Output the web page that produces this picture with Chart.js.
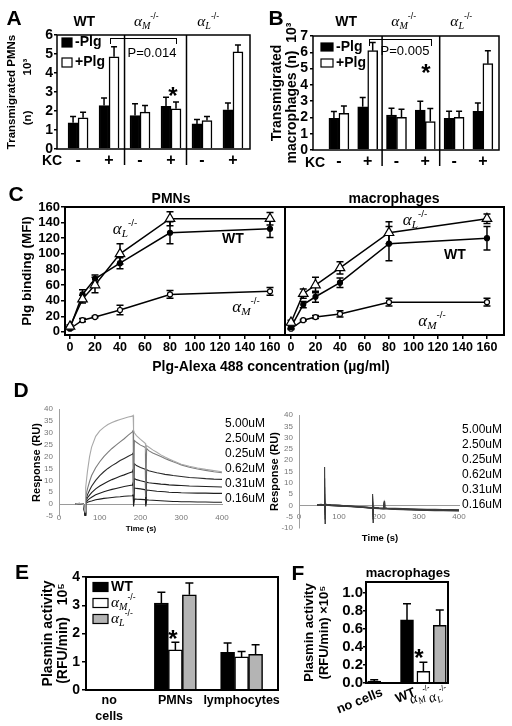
<!DOCTYPE html>
<html>
<head>
<meta charset="utf-8">
<script src="https://cdn.jsdelivr.net/npm/chart.js@4.4.1/dist/chart.umd.min.js"></script>
<style>
  body { margin: 0; background: #fff; }
  #wrap { position: relative; width: 512px; height: 726px; overflow: hidden; background: #fff;
          font-family: "Liberation Sans", Arial, sans-serif; color: #000; }
  #wrap canvas { position: absolute; left: 0; top: 0; }
  .t { position: absolute; white-space: nowrap; line-height: 1; transform: translate(-50%, -50%); }
  .g { font-family: "Liberation Serif", "Times New Roman", serif; font-style: italic; }
  .g sub { font-size: .66em; vertical-align: -.3em; line-height: 0; }
  .g sup { font-family: "Liberation Sans", Arial, sans-serif; font-style: normal; font-size: .58em; vertical-align: .75em; line-height: 0; }
</style>
</head>
<body>
<div id="wrap"></div>
<script>
const SANS = '"Liberation Sans", Arial, sans-serif';
const SERIF = '"Liberation Serif", "Times New Roman", serif';
Chart.defaults.font.family = SANS;
Chart.defaults.color = '#000';

// ---------- data ----------

// A / B : transmigration (n x 10^3)
const kcLabels = ['-', '+', '-', '+', '-', '+'];
const genotypes = ['WT', 'αM-/-', 'αL-/-'];
const pmnNoPlg = [1.38, 2.29, 1.76, 2.24, 1.32, 2.06];
const pmnNoPlgSd = [0.33, 0.39, 0.62, 0.49, 0.23, 0.36];
const pmnPlg = [1.64, 4.85, 1.94, 2.12, 1.5, 5.11];
const pmnPlgSd = [0.3, 0.53, 0.35, 0.35, 0.21, 0.36];
const macNoPlg = [1.95, 2.65, 2.15, 2.45, 1.95, 2.38];
const macNoPlgSd = [0.42, 0.58, 0.42, 0.55, 0.43, 0.5];
const macPlg = [2.25, 6.1, 2.0, 1.75, 2.0, 5.3];
const macPlgSd = [0.45, 0.5, 0.5, 0.8, 0.38, 0.8];
const aTicks = [0, 1, 2, 3, 4, 5, 6];
const bTicks = [0, 1, 2, 3, 4, 5, 6, 7];

// C : Plg binding (MFI) vs Plg-Alexa 488 (ug/ml)
const cConc = [0, 10, 20, 40, 80, 160];
const pmnWT = [5, 48, 68, 88, 127, 132];
const pmnWTSd = [2, 6, 5, 7, 14, 11];
const pmnAL = [7, 42, 60, 100, 145, 145];
const pmnALSd = [2, 5, 10, 13, 9, 8];
const pmnAM = [4, 15, 19, 28, 48, 52];
const pmnAMSd = [1, 2, 1, 6, 5, 5];
const macWT = [6, 35, 45, 63, 113, 120];
const macWTSd = [2, 4, 7, 6, 22, 15];
const macAL = [12, 49, 60, 82, 127, 145];
const macALSd = [3, 6, 10, 8, 14, 6];
const macAM = [4, 15, 19, 23, 38, 38];
const macAMSd = [1, 1, 2, 4, 5, 5];
const cXTicks = [0, 20, 40, 60, 80, 100, 120, 140, 160];
const cYTicks = [0, 20, 40, 60, 80, 100, 120, 140, 160];

// D : sensorgrams (RU vs s)
const dConc = ['5.00uM', '2.50uM', '0.25uM', '0.62uM', '0.31uM', '0.16uM'];
const dTime = [40, 50, 60, 64, 65, 66, 68, 70, 75, 80, 90, 100, 110, 120, 130, 140, 150, 160, 170, 180,
  182, 183, 185, 190, 200, 210, 212, 213, 215, 220, 230, 240, 250, 260, 270, 280, 290, 300, 320, 340, 360, 380, 400];
const s500 = [0, 0.3, 0, -3, 2, 7, 11, 14, 20, 24, 28.5, 30.8, 32.3, 33.5, 34.3, 35, 35.6, 36.1, 36.6, 37,
  37.3, 31, 30, 28.8, 27.2, 25.8, 25.5, 23, 24.6, 24, 22.8, 21.8, 20.7, 19.8, 19, 18.2, 17.5, 16.8, 15.9, 15.2, 14.6, 14.1, 13.6];
const s250 = [0, 0.2, 0, -3.5, 1, 3, 5, 6.5, 9.5, 12, 15.3, 17.8, 20, 21.8, 23.4, 24.8, 26.2, 27.5, 29, 30.4,
  31, 4, 26.8, 26, 24.8, 24, 23.7, 3, 23.4, 22.5, 21.5, 20.8, 20, 19.2, 18.5, 17.8, 17.2, 16.5, 15.5, 14.8, 14.2, 13.6, 13.2];
const s025 = [0, 0.3, -0.2, -4, 0.5, 2, 3, 4, 5.8, 7.5, 10, 12, 13.6, 15, 16.2, 17.2, 18.3, 19.2, 20.1, 21,
  21.5, 2, 17, 16.2, 15.4, 14.8, 14.6, 1, 14.5, 14, 13.6, 13.2, 12.9, 12.5, 12.3, 12, 11.8, 11.6, 11.2, 11, 10.7, 10.5, 10.4];
const s062 = [0, 0.2, 0, -4.5, 0.3, 1.3, 2, 2.7, 3.8, 4.8, 6.4, 7.6, 8.6, 9.5, 10.3, 11, 11.7, 12.3, 13, 13.6,
  14.5, 1, 10.8, 10.3, 9.8, 9.4, 9.3, 0.5, 9.2, 9, 8.8, 8.6, 8.4, 8.3, 8.1, 8, 7.9, 7.8, 7.6, 7.5, 7.4, 7.3, 7.2];
const s031 = [0, 0.2, 0, -5, 0.2, 0.8, 1.2, 1.6, 2.3, 2.9, 3.9, 4.6, 5.2, 5.7, 6.2, 6.6, 7, 7.4, 7.7, 8,
  9, 0.5, 6.8, 6.6, 6.4, 6.1, 6, 0, 5.9, 5.8, 5.6, 5.4, 5.3, 5.2, 5, 4.9, 4.9, 4.8, 4.7, 4.6, 4.6, 4.5, 4.5];
const s016 = [0, 0.2, 0, -5, 0, 0.4, 0.6, 0.8, 1.1, 1.3, 1.8, 2.1, 2.4, 2.6, 2.8, 3, 3.1, 3.3, 3.4, 3.5,
  4, -1, 2.2, 2.1, 2, 1.9, 1.9, -1, 1.8, 1.7, 1.6, 1.5, 1.4, 1.3, 1.2, 1.1, 1.1, 1, 1, 0.9, 0.9, 0.8, 0.8];
const rTime = [45, 55, 63, 64, 65, 66, 70, 80, 100, 120, 140, 160, 175, 183, 184, 185, 186, 190, 200, 212,
  213, 214, 220, 240, 260, 280, 300, 320, 340, 360, 380, 400];
const r500 = [0.3, 0.5, 0.3, 17, -8, 0.5, 0.4, 0.2, 0, -0.3, -0.6, -0.9, -1.1, -1.2, 5, -7.5, -1, -1.3, -1.5, -1.6,
  2, -1.5, -1.6, -1.8, -1.9, -2, -2.1, -2.2, -2.3, -2.4, -2.4, -2.5];
const r250 = [0.2, 0.4, 0.3, 12, -6, 0.6, 0.5, 0.3, 0.1, -0.2, -0.5, -0.8, -1, -1.1, 4, -6, -0.9, -1.1, -1.3, -1.4,
  1.5, -1.3, -1.4, -1.6, -1.7, -1.8, -1.9, -2, -2.1, -2.1, -2.2, -2.2];
const r025 = [0.1, 0.3, 0.2, 8, -4, 0.4, 0.4, 0.2, 0, -0.2, -0.4, -0.6, -0.8, -0.9, 3, -5, -0.7, -0.9, -1.1, -1.2,
  1.2, -1.1, -1.2, -1.3, -1.4, -1.5, -1.6, -1.7, -1.7, -1.8, -1.8, -1.9];
const r062 = [0.2, 0.3, 0.2, 5, -3, 0.3, 0.3, 0.1, -0.1, -0.3, -0.5, -0.7, -0.9, -1, 2, -4, -0.8, -1, -1.2, -1.3,
  0.8, -1.2, -1.3, -1.5, -1.6, -1.7, -1.8, -1.9, -2, -2, -2.1, -2.1];
const r031 = [0.1, 0.2, 0.1, 3, -2, 0.2, 0.2, 0, -0.2, -0.4, -0.6, -0.8, -1, -1.1, 1.5, -3, -0.9, -1.1, -1.3, -1.4,
  0.5, -1.3, -1.4, -1.6, -1.7, -1.8, -1.9, -2, -2.1, -2.1, -2.2, -2.2];
const r016 = [0, 0.2, 0.1, 2, -1.5, 0.1, 0.1, -0.1, -0.3, -0.5, -0.7, -0.9, -1.1, -1.2, 1, -2, -1, -1.2, -1.4, -1.5,
  0.3, -1.4, -1.5, -1.7, -1.8, -1.9, -2, -2.1, -2.2, -2.2, -2.3, -2.3];
const dXTicks = [0, 100, 200, 300, 400];
const dYTicks = [-5, 0, 5, 10, 15, 20, 25, 30, 35, 40];
const dYTicksR = [-10, -5, 0, 5, 10, 15, 20, 25, 30, 35, 40];

// E : plasmin activity (RFU/min x 10^5)
const eLabels = ['no cells', 'PMNs', 'lymphocytes'];
const plasWT = [null, 3.08, 1.33];
const plasWTSd = [null, 0.38, 0.33];
const plasAM = [null, 1.42, 1.17];
const plasAMSd = [null, 0.27, 0.19];
const plasAL = [null, 3.37, 1.26];
const plasALSd = [null, 0.42, 0.34];
const eTicks = [0, 1, 2, 3, 4];

// F : macrophage plasmin activity
const fLabels = ['no cells', '', 'WT', 'αM-/-', 'αL-/-'];
const fValues = [0.02, null, 0.70, 0.13, 0.64];
const fSd = [0.015, null, 0.18, 0.1, 0.17];
const fTicks = [0, 0.2, 0.4, 0.6, 0.8, 1.0];

// ---------- helpers ----------

const wrap = document.getElementById('wrap');
const pts = (xs, ys) => xs.map((x, i) => ({ x, y: ys[i] }));
const idx = ys => ys.map((y, i) => ({ x: i, y }));

// α with subscript letter and -/- superscript
function drawRich(ctx, text, x, y, size, align) {
  const m = /^α([A-Z])(.*)$/.exec(text);
  ctx.save();
  ctx.fillStyle = '#000';
  ctx.textBaseline = 'middle';
  if (!m) {
    ctx.font = `bold ${size}px ${SANS}`;
    ctx.textAlign = align;
    ctx.fillText(text, x, y);
    ctx.restore();
    return;
  }
  const parts = [
    { t: 'α', f: `italic ${size * 1.1}px ${SERIF}`, dy: 0 },
    { t: m[1], f: `italic ${size * 0.72}px ${SERIF}`, dy: size * 0.32 },
    { t: m[2], f: `${size * 0.62}px ${SANS}`, dy: -size * 0.4 },
  ];
  let w = 0;
  parts.forEach(p => { ctx.font = p.f; p.w = ctx.measureText(p.t).width; w += p.w; });
  let cx = align === 'center' ? x - w / 2 : align === 'right' ? x - w : x;
  ctx.textAlign = 'left';
  parts.forEach(p => { ctx.font = p.f; ctx.fillText(p.t, cx, y + p.dy); cx += p.w; });
  ctx.restore();
}

const frame = {
  id: 'frame',
  afterDraw(chart, args, o) {
    const { ctx, chartArea: a } = chart;
    ctx.save();
    ctx.strokeStyle = '#000';
    ctx.lineWidth = o.width || 1.5;
    ctx.strokeRect(a.left, a.top, a.right - a.left, a.bottom - a.top);
    (o.splits || []).forEach(v => {
      const x = chart.scales.x.getPixelForValue(v);
      ctx.beginPath();
      ctx.moveTo(x, a.top);
      ctx.lineTo(x, a.bottom + (o.drop || 0));
      ctx.stroke();
    });
    ctx.restore();
  },
};

const errorBars = {
  id: 'errorBars',
  beforeDatasetsDraw(chart, args, o) {
    const { ctx } = chart;
    const ys = chart.scales.y;
    chart.data.datasets.forEach((ds, di) => {
      if (!ds.errors) return;
      const meta = chart.getDatasetMeta(di);
      ctx.save();
      ctx.strokeStyle = '#000';
      ctx.lineWidth = o.width || 1.5;
      meta.data.forEach((el, i) => {
        const raw = ds.data[i];
        const v = raw !== null && typeof raw === 'object' ? raw.y : raw;
        const e = ds.errors[i];
        if (v == null || !e) return;
        const top = ys.getPixelForValue(v + e);
        const bot = ys.getPixelForValue(o.both ? v - e : v);
        ctx.beginPath();
        ctx.moveTo(el.x, bot);
        ctx.lineTo(el.x, top);
        ctx.moveTo(el.x - o.cap, top);
        ctx.lineTo(el.x + o.cap, top);
        if (o.both) {
          ctx.moveTo(el.x - o.cap, bot);
          ctx.lineTo(el.x + o.cap, bot);
        }
        ctx.stroke();
      });
      ctx.restore();
    });
  },
};

const groupHeads = {
  id: 'groupHeads',
  afterDraw(chart, args, o) {
    const xs = chart.scales.x;
    o.labels.forEach((lab, g) => {
      drawRich(chart.ctx, lab, xs.getPixelForValue(2 * g + o.shift), chart.chartArea.top - o.offset, o.size, 'center');
    });
  },
};

const boxLegend = {
  id: 'boxLegend',
  afterDraw(chart, args, o) {
    const { ctx, chartArea: a } = chart;
    chart.data.datasets.forEach((ds, i) => {
      const x = a.left + o.x;
      const y = a.top + o.y + i * o.gap;
      ctx.save();
      ctx.fillStyle = ds.backgroundColor;
      ctx.strokeStyle = '#000';
      ctx.lineWidth = 1.2;
      ctx.fillRect(x, y - o.bh / 2, o.bw, o.bh);
      ctx.strokeRect(x, y - o.bh / 2, o.bw, o.bh);
      ctx.restore();
      drawRich(ctx, ds.label, x + o.bw + 3, y, o.size, 'left');
    });
  },
};

const slantTicks = {
  id: 'slantTicks',
  afterDraw(chart, args, o) {
    const { ctx, chartArea: a } = chart;
    const xs = chart.scales.x;
    chart.data.labels.forEach((lab, i) => {
      if (!lab) return;
      ctx.save();
      ctx.translate(xs.getPixelForValue(i) + o.dx, a.bottom + o.dy);
      ctx.rotate(-o.angle * Math.PI / 180);
      drawRich(ctx, lab, 0, 0, o.size, 'right');
      ctx.restore();
    });
  },
};

function yAxis(o) {
  return {
    min: o.min,
    max: o.max,
    afterBuildTicks: s => { s.ticks = o.ticks.map(v => ({ value: v })); },
    afterFit: s => { s.width = o.w; },
    border: { display: !!o.line, color: o.line, width: 1 },
    grid: { display: !!o.tick, drawOnChartArea: false, drawTicks: !!o.tick, tickLength: o.tick || 0, color: '#000', lineWidth: 1.5 },
    ticks: {
      autoSkip: false, color: o.color || '#000', padding: o.pad,
      font: { size: o.size, weight: o.light ? 'normal' : 'bold' }, callback: o.fmt || (v => v),
    },
    title: { display: true, text: o.title, color: '#000', padding: 0, font: { size: o.tsize, weight: 'bold', lineHeight: o.tlh || 1.15 } },
  };
}

// category-like axis on a linear scale, so the groups can sit where the figure has them
function idxAxis(labels, min, max, o) {
  return {
    type: 'linear',
    min,
    max,
    offset: false,
    afterBuildTicks: s => { s.ticks = labels.map((_, i) => ({ value: i })); },
    afterFit: s => { s.height = o.h; },
    grid: { display: false, drawTicks: false, offset: false },
    border: { display: false },
    ticks: {
      autoSkip: false, maxRotation: 0, padding: o.pad,
      font: { size: o.size, weight: 'bold', lineHeight: o.lh || 1.2 },
      callback: v => (o.split ? labels[v].split(' ') : labels[v]),
    },
  };
}

function makeChart(type, data, options, plugins) {
  const c = document.createElement('canvas');
  c.width = 512;
  c.height = 726;
  wrap.appendChild(c);
  const base = { responsive: false, animation: false, devicePixelRatio: 1, events: [] };
  const opts = Object.assign(base, options);
  opts.plugins = Object.assign({ legend: { display: false }, tooltip: { enabled: false } }, options.plugins);
  return new Chart(c, { type, data, options: opts, plugins });
}

function note(html, x, y, css, left) {
  const d = document.createElement('div');
  d.className = 't';
  d.innerHTML = html;
  d.style.cssText = `left:${x}px;top:${y}px;${css || ''}`;
  if (left) d.style.transform = 'translate(0,-50%)';
  wrap.appendChild(d);
}
const star = (x, y, size) => note('*', x, y - 0.28 * size, `font:bold ${size}px ${SANS};transform:translateX(-50%)`);
const bracket = (x1, x2, y, h) => {
  const d = document.createElement('div');
  d.style.cssText = `position:absolute;left:${x1}px;top:${y}px;width:${x2 - x1}px;height:${h}px;border:1px solid #000;border-bottom:none;`;
  wrap.appendChild(d);
};
const geno = L => `<span class="g">α<sub>${L}</sub><sup>-/-</sup></span>`;

// ---------- A ----------
makeChart('bar', {
  datasets: [
    { label: '-Plg', data: idx(pmnNoPlg), errors: pmnNoPlgSd, backgroundColor: '#000', borderColor: '#000', borderWidth: 1.5 },
    { label: '+Plg', data: idx(pmnPlg), errors: pmnPlgSd, backgroundColor: '#fff', borderColor: '#000', borderWidth: 1.5 },
  ],
}, {
  layout: { padding: { left: 4, top: 35, right: 262, bottom: 557 } },
  datasets: { bar: { barThickness: 10 } },
  scales: {
    x: idxAxis(kcLabels, -0.68, 5.55, { size: 16, pad: 2, h: 20 }),
    y: yAxis({ min: 0, max: 6, ticks: aTicks, w: 53, size: 14, tick: 3, pad: 1,
      title: ['Transmigrated PMNs', '(n)           10³'], tsize: 11.5, tlh: 1.4 }),
  },
  plugins: {
    frame: { width: 1.5, splits: [1.5, 3.5], drop: 16 },
    errorBars: { cap: 3 },
    groupHeads: { labels: genotypes, shift: 0.2, offset: 13, size: 14 },
    boxLegend: { x: 5, y: 7.5, gap: 20, bw: 10, bh: 9, size: 14 },
  },
}, [frame, errorBars, groupHeads, boxLegend]);

// ---------- B ----------
makeChart('bar', {
  datasets: [
    { label: '-Plg', data: idx(macNoPlg), errors: macNoPlgSd, backgroundColor: '#000', borderColor: '#000', borderWidth: 1.5 },
    { label: '+Plg', data: idx(macPlg), errors: macPlgSd, backgroundColor: '#fff', borderColor: '#000', borderWidth: 1.5 },
  ],
}, {
  layout: { padding: { left: 269, top: 36, right: 13, bottom: 556 } },
  datasets: { bar: { barThickness: 10 } },
  scales: {
    x: idxAxis(kcLabels, -0.9, 5.56, { size: 16, pad: 2, h: 20 }),
    y: yAxis({ min: 0, max: 7, ticks: bTicks, w: 44, size: 14, tick: 3, pad: 2,
      title: ['Transmigrated', 'macrophages (n)  10³'], tsize: 14, tlh: 1.1 }),
  },
  plugins: {
    frame: { width: 1.5, splits: [1.5, 3.5], drop: 16 },
    errorBars: { cap: 3 },
    groupHeads: { labels: genotypes, shift: 0.25, offset: 14, size: 14 },
    boxLegend: { x: 8, y: 11, gap: 16, bw: 12, bh: 8, size: 14 },
  },
}, [frame, errorBars, groupHeads, boxLegend]);

// ---------- C ----------
const lineDs = (label, ys, sd, style) => Object.assign({
  label, data: pts(cConc, ys), errors: sd,
  borderColor: '#000', borderWidth: 1.5, pointBorderColor: '#000', pointBorderWidth: 1.2,
}, style);
const wtStyle = { pointStyle: 'circle', pointRadius: 2.5, pointBackgroundColor: '#000' };
const alStyle = { pointStyle: 'triangle', pointRadius: 5.5, pointBackgroundColor: '#fff' };
const amStyle = { pointStyle: 'circle', pointRadius: 2.5, pointBackgroundColor: '#fff' };
const cX = (min, max) => ({
  type: 'linear', min, max,
  afterBuildTicks: s => { s.ticks = cXTicks.map(v => ({ value: v })); },
  afterFit: s => { s.height = 24; },
  border: { display: false },
  grid: { display: true, drawOnChartArea: false, drawTicks: true, tickLength: 4, color: '#000', lineWidth: 1.5 },
  ticks: { padding: 1, maxRotation: 0, autoSkip: false, font: { size: 12.5, weight: 'bold' } },
});

makeChart('line', {
  datasets: [
    lineDs('αL-/-', pmnAL, pmnALSd, alStyle),
    lineDs('WT', pmnWT, pmnWTSd, wtStyle),
    lineDs('αM-/-', pmnAM, pmnAMSd, amStyle),
  ],
}, {
  layout: { padding: { left: 20, top: 207, right: 227, bottom: 367 } },
  scales: {
    x: cX(-4, 172),
    y: yAxis({ min: -4, max: 160, ticks: cYTicks, w: 45, size: 13, tick: 4, pad: 1,
      title: 'Plg binding (MFI)', tsize: 13.5 }),
  },
  plugins: { frame: { width: 2 }, errorBars: { cap: 3.5, both: true } },
}, [frame, errorBars]);

makeChart('line', {
  datasets: [
    lineDs('αL-/-', macAL, macALSd, alStyle),
    lineDs('WT', macWT, macWTSd, wtStyle),
    lineDs('αM-/-', macAM, macAMSd, amStyle),
  ],
}, {
  layout: { padding: { left: 285, top: 207, right: 8, bottom: 367 } },
  scales: {
    x: cX(-4.9, 173.9),
    y: { display: false, min: -4, max: 160 },
  },
  plugins: { frame: { width: 2 }, errorBars: { cap: 3.5, both: true } },
}, [frame, errorBars]);

// ---------- D ----------
const dColors = ['#a9a9a9', '#7c7c7c', '#2a2a2a', '#1e1e1e', '#1e1e1e', '#1e1e1e'];
const dX = pad => ({
  type: 'linear', min: 0, max: 400, position: { y: 0 },
  afterBuildTicks: s => { s.ticks = dXTicks.map(v => ({ value: v })); },
  border: { display: true, color: '#9a9a9a', width: 1 },
  grid: { display: false, drawTicks: false },
  ticks: { padding: pad, color: '#777', maxRotation: 0, autoSkip: false, font: { size: 8 } },
});
const sensor = (xs, series, color) => series.map((ys, i) => ({
  label: dConc[i], data: pts(xs, ys), borderColor: color || dColors[i],
  borderWidth: 1.1, pointRadius: 0, tension: 0,
}));

makeChart('line', { datasets: sensor(dTime, [s500, s250, s025, s062, s031, s016]) }, {
  layout: { padding: { left: 31, top: 409, right: 290, bottom: 210 } },
  scales: {
    x: dX(9),
    y: yAxis({ min: -5, max: 40, ticks: dYTicks, w: 28, size: 8, pad: 6, color: '#777', light: true,
      line: '#a0a0a0', title: 'Response (RU)', tsize: 11 }),
  },
}, []);

makeChart('line', { datasets: sensor(rTime, [r500, r250, r025, r062, r031, r016], '#3c3c3c') }, {
  layout: { padding: { left: 269, top: 415, right: 53, bottom: 198 } },
  scales: {
    x: dX(7),
    y: yAxis({ min: -10, max: 40, ticks: dYTicksR, w: 30, size: 8, pad: 6, color: '#777', light: true,
      line: '#a0a0a0', title: 'Response (RU)', tsize: 11 }),
  },
}, []);

// ---------- E ----------
makeChart('bar', {
  datasets: [
    { label: 'WT', data: idx(plasWT), errors: plasWTSd, backgroundColor: '#000', borderColor: '#000', borderWidth: 1.5 },
    { label: 'αM-/-', data: idx(plasAM), errors: plasAMSd, backgroundColor: '#fff', borderColor: '#000', borderWidth: 1.5 },
    { label: 'αL-/-', data: idx(plasAL), errors: plasALSd, backgroundColor: '#b4b4b4', borderColor: '#000', borderWidth: 1.5 },
  ],
}, {
  layout: { padding: { left: 40, top: 577, right: 234, bottom: 0 } },
  datasets: { bar: { barThickness: 14 } },
  scales: {
    x: idxAxis(eLabels, -0.35, 2.55, { size: 12.5, pad: 3, h: 36, split: true, lh: 1.25 }),
    y: yAxis({ min: 0, max: 4, ticks: eTicks, w: 46, size: 14, tick: 4, pad: 2,
      title: ['Plasmin activity', '(RFU/min)   10⁵'], tsize: 14, tlh: 1.1 }),
  },
  plugins: {
    frame: { width: 2 },
    errorBars: { cap: 4 },
    boxLegend: { x: 7, y: 10, gap: 16, bw: 15, bh: 9, size: 14 },
  },
}, [frame, errorBars, boxLegend]);

// ---------- F ----------
makeChart('bar', {
  labels: fLabels,
  datasets: [{
    label: 'macrophages', data: fValues, errors: fSd,
    backgroundColor: ['#000', '#000', '#000', '#fff', '#b4b4b4'], borderColor: '#000', borderWidth: 1.5,
  }],
}, {
  layout: { padding: { left: 302, top: 582, right: 64, bottom: 3 } },
  datasets: { bar: { barThickness: 13 } },
  scales: {
    x: {
      afterFit: s => { s.height = 40; },
      grid: { display: false, drawTicks: false }, border: { display: false },
      ticks: { display: false },
    },
    y: yAxis({ min: 0, max: 1.12, ticks: fTicks, w: 64, size: 15, tick: 3, pad: 0, fmt: v => v.toFixed(1),
      title: ['Plasmin activity', '(RFU/min) ×10⁵'], tsize: 13, tlh: 1.15 }),
  },
  plugins: {
    frame: { width: 2 },
    errorBars: { cap: 4 },
    slantTicks: { dx: 8, dy: 9, angle: 22, size: 13 },
  },
}, [frame, errorBars, slantTicks]);

// ---------- free text ----------
const big = `font:bold 21px ${SANS}`;
note('A', 14, 18, big);
note('B', 276, 18, big);
note('C', 16, 194, big);
note('D', 21, 390, big);
note('E', 22, 572, big);
note('F', 298, 573, big);

note('KC', 52, 160, `font:bold 14px ${SANS}`);
note('KC', 315, 162, `font:bold 14px ${SANS}`);
bracket(110, 175, 38, 5);
bracket(369, 430, 39, 6);
note('P=0.014', 152, 52, `font:13px ${SANS}`);
note('P=0.005', 405, 50, `font:13px ${SANS}`);
star(173, 89, 24);
star(426, 66, 24);
star(173, 632, 24);
star(419, 651, 24);

note('PMNs', 171, 198, `font:bold 14px ${SANS}`);
note('macrophages', 394, 198, `font:bold 14px ${SANS}`);
note('Plg-Alexa 488 concentration (µg/ml)', 271, 366, `font:bold 14px ${SANS}`);
note(geno('L'), 125, 228, 'font-size:17px');
note('WT', 233, 238, `font:bold 14px ${SANS}`);
note(geno('M'), 246, 306, 'font-size:17px');
note(geno('L'), 415, 219, 'font-size:17px');
note('WT', 455, 254, `font:bold 14px ${SANS}`);
note(geno('M'), 432, 320, 'font-size:17px');

dConc.forEach((c, i) => {
  note(c, 225, 423 + 15 * i, `font:12px ${SANS}`, true);
  note(c, 462, 429 + 15 * i, `font:12px ${SANS}`, true);
});
note('Time (s)', 141, 528, `font:bold 8px ${SANS}`);
note('Time (s)', 380, 537, `font:bold 9.5px ${SANS}`);
note('macrophages', 408, 572, `font:bold 13px ${SANS}`);
</script>
</body>
</html>
